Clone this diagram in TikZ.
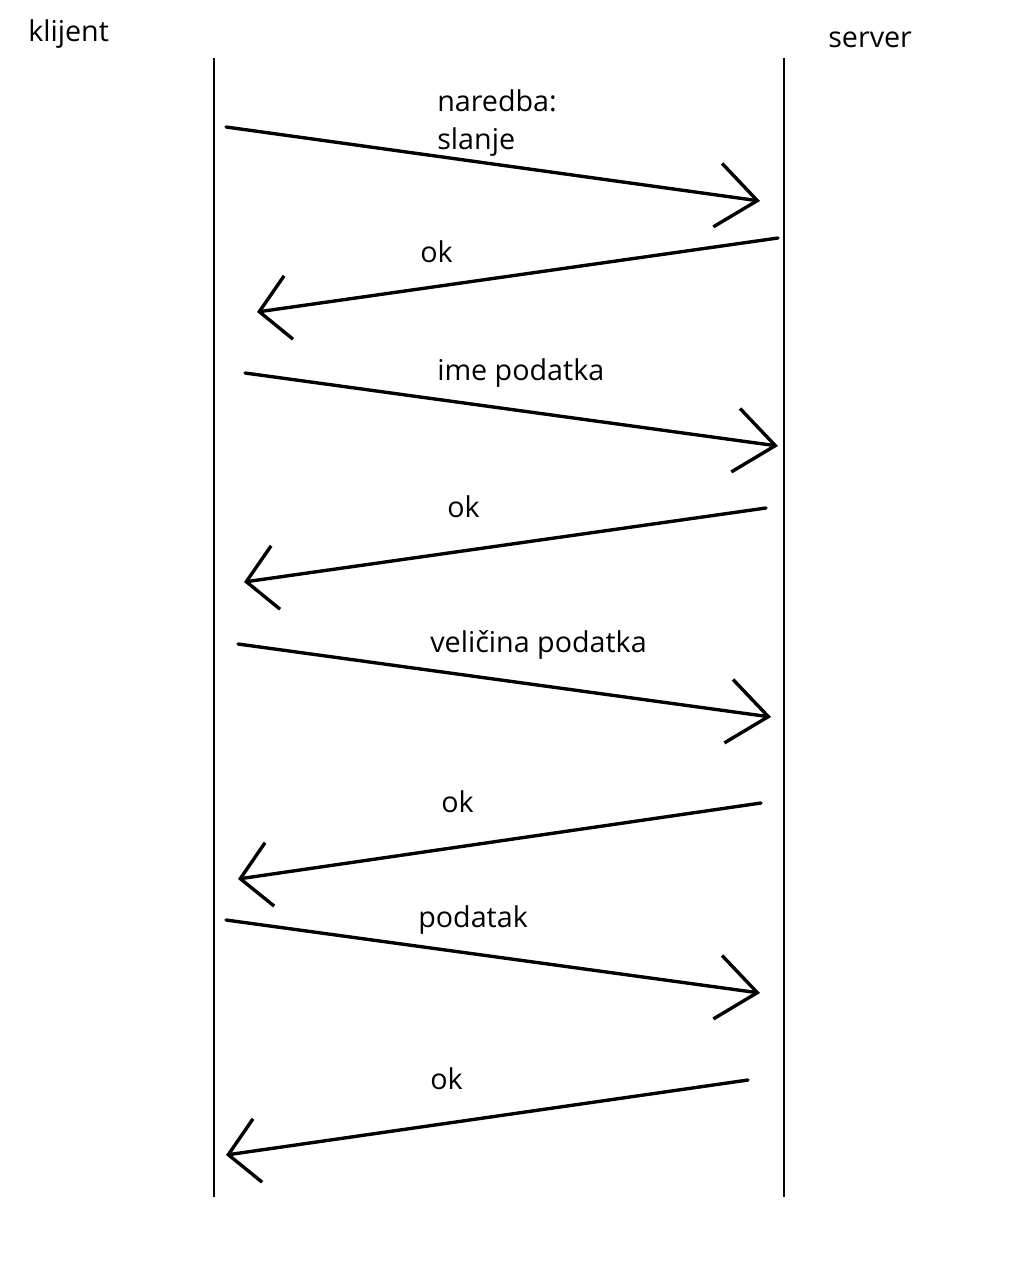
\documentclass[tikz,border=0pt]{standalone}
\usepackage{fontspec}
\setmainfont{Open Sans}
\usetikzlibrary{arrows.meta}

\tikzset{
  lifeline/.style={line width=1pt},
  msg/.style={line width=2.4pt, line cap=round, line join=round,
    -{Straight Barb[length=1.0cm, width=1.6cm, line width=2.4pt]}},
  reply/.style={line width=2.4pt, line cap=round, line join=round,
    -{Straight Barb[length=0.74cm, width=1.6cm, line width=2.4pt]}},
  msglabel/.style={anchor=base west, inner sep=0pt, font=\fontsize{20.4}{24}\selectfont},
}

\begin{document}
\begin{tikzpicture}[x=0.025cm, y=-0.025cm]
        \useasboundingbox (0,0) rectangle (1024,1280);
        % Draw the titles
        \node[msglabel] (klijent) at (28,42) {klijent};
        \node[msglabel] (server) at (828,48) {server};
        % Draw the lifelines
        \coordinate (kTop) at (214,58);
        \coordinate (kBot) at (214,1197);
        \coordinate (sTop) at (784,58);
        \coordinate (sBot) at (784,1197);
        \draw[lifeline] (kTop) -- (kBot);
        \draw[lifeline] (sTop) -- (sBot);
        % Message end points
        \coordinate (m1a) at (226,127);  \coordinate (m1b) at (760,201);
        \coordinate (m2a) at (778,238);  \coordinate (m2b) at (257,312);
        \coordinate (m3a) at (245,373);  \coordinate (m3b) at (778,446);
        \coordinate (m4a) at (766,508);  \coordinate (m4b) at (244,582);
        \coordinate (m5a) at (238,644);  \coordinate (m5b) at (771,717);
        \coordinate (m6a) at (761,803);  \coordinate (m6b) at (238,879);
        \coordinate (m7a) at (226,920);  \coordinate (m7b) at (760,993);
        \coordinate (m8a) at (748,1080); \coordinate (m8b) at (226,1155);
        % Draw arrows
        \draw[msg] (m1a) -- (m1b);
        \draw[reply] (m2a) -- (m2b);
        \draw[msg] (m3a) -- (m3b);
        \draw[reply] (m4a) -- (m4b);
        \draw[msg] (m5a) -- (m5b);
        \draw[reply] (m6a) -- (m6b);
        \draw[msg] (m7a) -- (m7b);
        \draw[reply] (m8a) -- (m8b);
        % Draw labels
        \node[msglabel] (naredba) at (437,112) {naredba:};
        \node[msglabel] (slanje) at (437,150) {slanje};
        \node[msglabel] (ok1) at (420,262) {ok};
        \node[msglabel] (ime) at (437,380) {ime podatka};
        \node[msglabel] (ok2) at (447,517) {ok};
        \node[msglabel] (velicina) at (430,652) {veličina podatka};
        \node[msglabel] (ok3) at (441,812) {ok};
        \node[msglabel] (podatak) at (418,927) {podatak};
        \node[msglabel] (ok4) at (430,1089) {ok};
\end{tikzpicture}
\end{document}
